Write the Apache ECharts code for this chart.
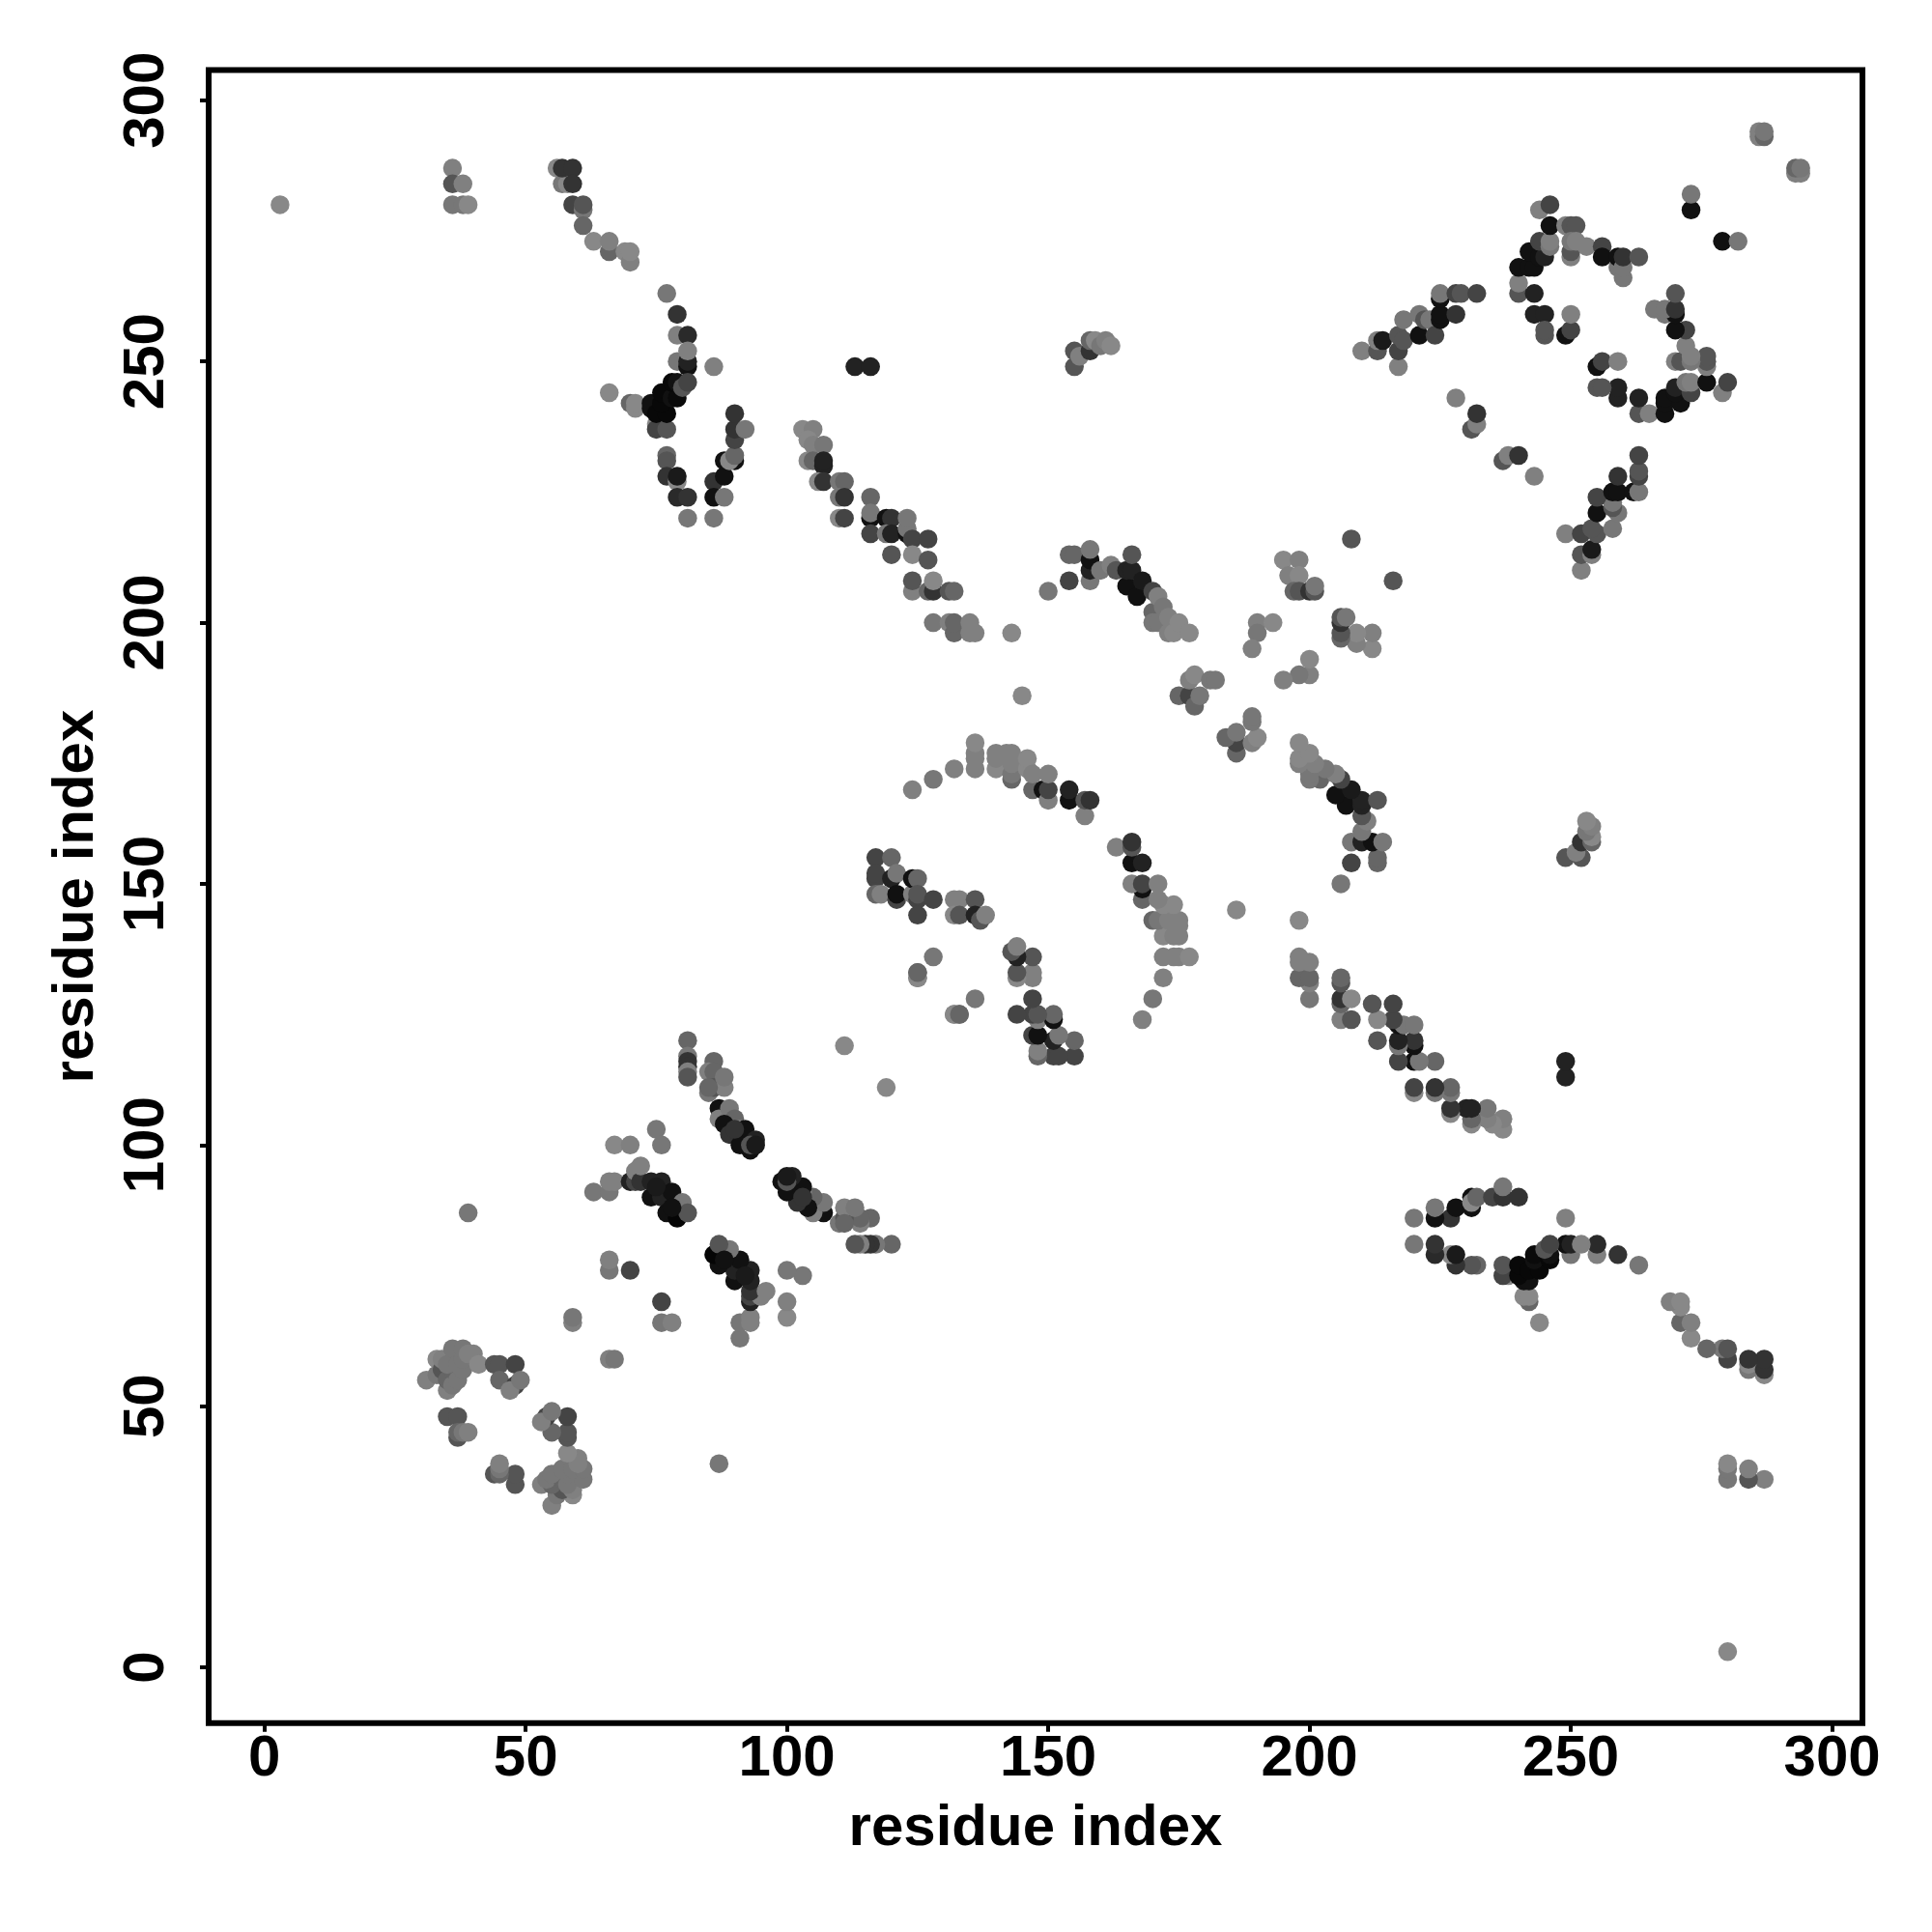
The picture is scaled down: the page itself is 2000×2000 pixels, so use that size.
<!DOCTYPE html>
<html>
<head>
<meta charset="utf-8">
<style>html,body{margin:0;padding:0;background:#fff}#c{width:2000px;height:2000px}</style>
<script src="https://cdn.jsdelivr.net/npm/echarts@6/dist/echarts.min.js"></script>
</head>
<body>
<div id="c"></div>
<script>
// Each contact is [residue i, residue j, grey level]. The map is symmetric, so every contact is drawn at (i,j) and (j,i).
const tickValues = [0, 50, 100, 150, 200, 250, 300];
const axisTitle = 'residue index';

const farTop = [[3,280,136],[36,287,128],[36,284,85],[38,284,128],[36,280,119],[38,280,119],[39,280,136],
 [56,287,136],[57,284,119],[58,284,136],[57,287,51],[59,287,51],[59,284,51],[59,280,68],[61,279,119],[61,280,85],
 [61,276,102],[63,273,136],[66,271,102],[66,273,128],[69,271,136],[70,269,128],[70,271,136]];
const apexCluster = [[77,263,119],[79,259,51],[79,255,128],[81,255,42],[79,250,119],[81,249,17],[81,250,34],[81,252,128],
 [86,249,128],[66,244,136],[70,242,102],[71,241,136],[71,242,136],[75,238,136],[75,237,68],[77,237,85],
 [74,241,17],[74,242,17],[75,240,8],[77,240,8],[76,242,8],[76,244,8],[78,243,17],[79,243,10],[78,246,8],[79,246,17],[80,245,85],[81,246,68],
 [77,232,102],[77,231,85],[77,228,51],[79,227,136],[79,228,26],[79,224,42],[81,224,51],[81,220,119],[86,220,119],
 [86,227,51],[86,224,17],[88,224,119],[88,228,17],[88,231,17],[90,231,17],[89,231,136],[90,232,102],[90,235,68],[90,237,51],[92,237,119],[90,240,51]];
const strandUpper = [[103,237,136],[105,237,128],[104,235,136],[104,231,136],[105,234,128],[107,234,119],[105,231,102],[107,230,34],[107,231,34],
 [106,227,136],[107,227,51],[110,227,119],[111,227,102],[110,224,119],[111,224,51],[110,220,136],[111,220,68],
 [116,224,102],[116,220,17],[116,221,119],[116,217,68],[119,220,17],[120,220,51],[119,217,119],[120,217,34],[123,217,17],[123,218,119],[123,220,119],
 [124,216,68],[127,216,68],[120,213,85],[124,213,136],[127,212,85],[124,206,128],[124,208,85],[127,206,102],[128,206,51],[128,208,136],
 [131,206,85],[132,206,102],[128,200,119],[131,200,128],[132,198,102],[132,200,102],[135,198,128],[135,200,128],[136,198,128],[143,198,136],[145,186,136]];
const arcMiddle = [[124,168,128],[128,170,119],[132,172,128],[136,172,128],[136,174,128],[136,175,128],[136,177,136],
 [140,172,136],[140,174,128],[140,175,128],[142,175,128],[143,170,102],[143,171,119],[143,173,128],[143,175,128],[146,172,136],[146,174,136],
 [147,168,102],[147,171,128],[149,168,17],[150,166,128],[150,168,68],[150,171,128],[154,166,17],[154,168,34],[157,163,128],[157,166,85],[158,166,51]];
const patchInner = [[117,155,68],[120,155,102],[117,151,68],[117,152,68],[120,151,34],[121,152,119],[117,148,102],[118,148,128],
 [121,147,68],[121,148,17],[124,148,128],[124,151,17],[125,151,102],[125,147,68],[125,148,85],[128,147,68],[125,144,68],
 [132,147,128],[133,147,128],[136,147,85],[132,144,136],[133,144,85],[136,144,34],[137,143,85],[138,144,128],
 [128,136,119],[125,132,128],[125,133,102],[111,119,136],[132,125,136],[133,125,102]];
const helixTop = [[113,249,34],[116,249,34],[155,249,85],[155,252,85],[156,251,128],[158,252,51],[158,254,102],[159,254,136],[160,253,119],[161,254,128],[162,253,136]];
const strandCentre = [[150,206,119],[154,208,68],[154,213,102],[155,213,102],[158,208,119],[158,210,34],[158,212,17],[158,214,119],[160,210,119],
 [162,211,128],[163,210,85],[165,207,17],[165,210,34],[166,210,34],[166,213,85],[167,205,17],[168,208,26],[170,206,68],
 [170,202,102],[170,200,119],[171,200,119],[171,205,128],[172,203,119],[173,198,128],[173,201,128],[174,198,136],[175,200,136],[177,198,136]];
const nearDiagonal = [[175,186,102],[177,186,68],[177,189,128],[178,190,136],[178,184,102],[179,186,119],[181,189,119],[182,189,119],
 [190,200,128],[193,200,136],[190,198,119],[189,195,128]];
const sideContacts = [[195,212,136],[198,212,128],[196,209,128],[198,209,136],[197,206,102],[198,206,85],[200,206,51],[201,206,85],[201,207,119],[208,216,85]];
const strandFar = [[210,252,128],[213,252,85],[213,254,128],[214,254,26],[217,249,128],[217,252,68],[217,255,85],[218,254,85],[218,258,119],
 [221,259,119],[221,255,17],[222,258,85],[223,258,119],[224,255,68],[225,258,17],[225,259,17],[225,262,17],[225,263,119],
 [228,259,51],[228,263,68],[229,263,85],[232,263,68],[228,243,128],[231,237,85],[232,238,128],[232,240,51]];
const diamondTop = [[240,263,85],[240,265,128],[243,263,34],[243,259,34],[245,259,34],[245,255,85],[245,256,85],[249,255,17],[250,256,68],[250,259,128],
 [240,268,17],[242,268,17],[243,268,17],[242,271,17],[244,270,17],[245,270,34],[244,273,68],[246,272,119],[246,273,128],[246,276,17],[244,279,128],[246,280,68],
 [249,276,128],[250,276,85],[251,276,85],[250,270,128],[250,271,85],[250,273,119],[251,273,128],[253,272,128],[256,272,68],[256,270,17],
 [259,268,119],[259,270,17],[260,266,119],[260,268,119],[260,270,51],[263,270,85],[273,279,17],[273,282,119],
 [286,293,128],[286,294,128],[287,293,102],[287,294,119]];
const lowerCluster = [[31,55,128],[33,56,119],[33,59,136],[34,57,85],[34,59,128],[35,53,128],[35,55,102],[36,54,119],[36,57,102],[35,58,119],[36,61,119],[37,55,119],[37,58,119],
 [38,57,119],[38,59,119],[38,61,119],[39,60,128],[40,60,128],[41,58,136],[44,58,85],[45,58,85],[48,58,68],[45,55,102],[48,54,68],[47,53,128],[49,55,119],
 [35,48,85],[37,48,85],[37,44,85],[37,45,102],[38,45,119],[39,45,128],[59,66,128],[59,67,119],[39,87,119]];
const strandLow = [[63,91,119],[66,91,119],[66,93,128],[67,93,128],[67,100,136],[70,100,128],[75,103,119],[76,100,119],
 [66,76,119],[66,78,128],[70,76,68],[70,93,34],[71,93,68],[71,95,128],[72,93,51],[72,96,128],[74,90,17],[74,93,34],[76,90,34],[76,93,34],
 [78,91,17],[77,87,17],[79,86,5],[80,89,119],[81,87,85],[75,92,26],[78,88,17]];
const strandMid = [[81,120,102],[81,117,119],[81,116,51],[81,115,51],[81,114,128],[81,113,85],[86,116,102],[85,114,128],[86,114,102],[85,110,119],[86,111,85],[88,111,128],
 [87,107,17],[87,105,128],[89,107,119],[90,105,102],[88,104,17],[89,102,51],[91,103,128],[92,103,17],[91,100,17],[93,99,17],[94,101,34],[93,100,85],
 [85,111,102],[88,113,119],[90,103,51],[94,100,26]];

const contactGroups = [farTop, apexCluster, strandUpper, arcMiddle, patchInner, helixTop, strandCentre, nearDiagonal, sideContacts, strandFar, diamondTop, lowerCluster, strandLow, strandMid];
const points = contactGroups.flat().flatMap(([i, j, g]) => [[i, j, g], [j, i, g]]);

const font = {fontFamily: '"Liberation Sans", Arial, sans-serif', fontWeight: 'bold', fontSize: 60, color: '#000'};
const chart = echarts.init(document.getElementById('c'), null, {renderer: 'canvas'});
const baseAxis = {
  type: 'value', min: -10.66, max: 305.8, splitLine: {show: false}, axisLine: {show: false, onZero: false},
  name: axisTitle, nameLocation: 'middle', nameTextStyle: font,
  axisTick: {show: true, customValues: tickValues, length: 9, lineStyle: {color: '#000', width: 4}}
};
chart.setOption({
  animation: false, backgroundColor: '#fff',
  grid: {left: 216, top: 72.4, width: 1712, height: 1711.3, show: true, borderColor: '#000', borderWidth: 6, backgroundColor: '#fff', containLabel: false},
  xAxis: Object.assign({}, baseAxis, {nameGap: 80,
    axisLabel: Object.assign({}, font, {customValues: tickValues, margin: 8, hideOverlap: false})}),
  yAxis: Object.assign({}, baseAxis, {nameGap: 107,
    axisLabel: Object.assign({}, font, {customValues: tickValues, rotate: 90, margin: 34, hideOverlap: false})}),
  series: [{
    type: 'scatter', symbol: 'circle', symbolSize: 19.5, large: false, clip: false,
    data: points,
    itemStyle: {opacity: 1, color: p => { const g = p.value[2]; return 'rgb(' + g + ',' + g + ',' + g + ')'; }}
  }]
});
</script>
</body>
</html>
